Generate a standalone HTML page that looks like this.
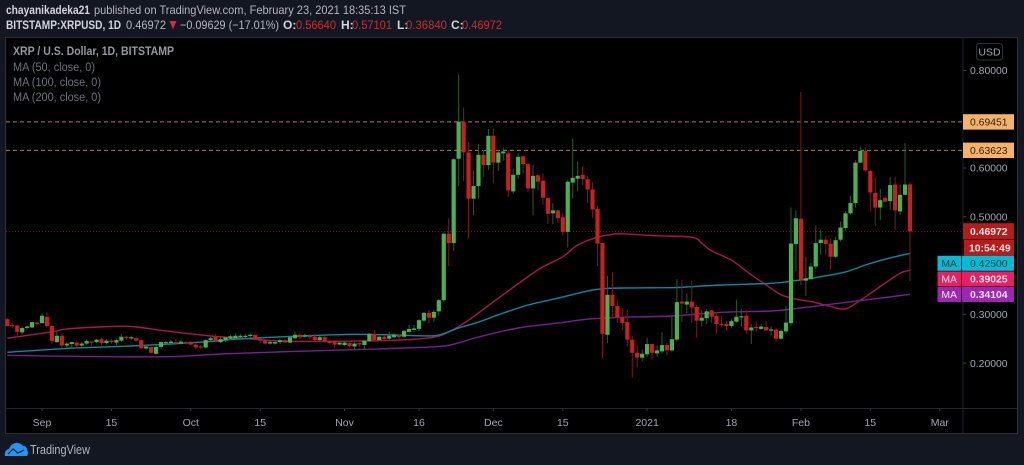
<!DOCTYPE html>
<html lang="en">
<head>
<meta charset="utf-8">
<title>XRP / U.S. Dollar, 1D, BITSTAMP</title>
<style>
html,body{margin:0;padding:0;background:#131722;width:1024px;height:465px;overflow:hidden}
svg{display:block}
text{font-family:"Liberation Sans",sans-serif}
#plot{filter:blur(0.3px)}
</style>
</head>
<body>
<svg id="chart" width="1024" height="465" viewBox="0 0 1024 465" xmlns="http://www.w3.org/2000/svg">
  <rect x="0" y="0" width="1024" height="465" fill="#131722"/>

  <g font-size="12">
    <text x="6" y="14" font-weight="bold" fill="#d1d4dc" textLength="84" lengthAdjust="spacingAndGlyphs">chayanikadeka21</text>
    <text x="94" y="14" fill="#b2b5be" textLength="312" lengthAdjust="spacingAndGlyphs">published on TradingView.com, February 23, 2021 18:35:13 IST</text>
  </g>

  <g font-size="12">
    <text x="6" y="29" font-weight="bold" fill="#d1d4dc" textLength="115" lengthAdjust="spacingAndGlyphs">BITSTAMP:XRPUSD, 1D</text>
    <text x="126" y="29" fill="#b2b5be" textLength="40" lengthAdjust="spacingAndGlyphs">0.46972</text>
    <polygon points="169.500,21 176.500,21 173,29.500" fill="#d32f2f"/>
    <text x="180" y="29" fill="#b2b5be" textLength="99" lengthAdjust="spacingAndGlyphs">−0.09629 (−17.01%)</text>
    <text x="283" y="29" font-weight="bold" fill="#d1d4dc">O:</text>
    <text x="296" y="29" fill="#c62f2f" textLength="40" lengthAdjust="spacingAndGlyphs">0.56640</text>
    <text x="341" y="29" font-weight="bold" fill="#d1d4dc">H:</text>
    <text x="352" y="29" fill="#c62f2f" textLength="40" lengthAdjust="spacingAndGlyphs">0.57101</text>
    <text x="397" y="29" font-weight="bold" fill="#d1d4dc">L:</text>
    <text x="406" y="29" fill="#c62f2f" textLength="41" lengthAdjust="spacingAndGlyphs">0.36840</text>
    <text x="451" y="29" font-weight="bold" fill="#d1d4dc">C:</text>
    <text x="462" y="29" fill="#c62f2f" textLength="40" lengthAdjust="spacingAndGlyphs">0.46972</text>
  </g>

  <rect x="5.500" y="37.500" width="1012" height="396" fill="#000" stroke="#2a2e39" stroke-width="1"/>
  <line x1="963" y1="38" x2="963" y2="433" stroke="#1f222b" stroke-width="1"/>
  <line x1="6" y1="408.500" x2="1017" y2="408.500" stroke="#23262f" stroke-width="1"/>

  <g id="plot"></g>
  <g id="xaxis"></g>
  <g id="yaxis"></g>
  <g id="tags"></g>

  <g>
    <text x="13" y="55" font-size="11.500" font-weight="bold" fill="#9598a1" textLength="161" lengthAdjust="spacingAndGlyphs">XRP / U.S. Dollar, 1D, BITSTAMP</text>
    <text x="13" y="71" font-size="11.500" fill="#6f727c" textLength="82" lengthAdjust="spacingAndGlyphs">MA (50, close, 0)</text>
    <text x="13" y="86" font-size="11.500" fill="#6f727c" textLength="88" lengthAdjust="spacingAndGlyphs">MA (100, close, 0)</text>
    <text x="13" y="101" font-size="11.500" fill="#6f727c" textLength="88" lengthAdjust="spacingAndGlyphs">MA (200, close, 0)</text>
  </g>

  <g>
    <rect x="976.500" y="43.500" width="26" height="16.500" rx="3" fill="none" stroke="#2e323c"/>
    <text x="989.500" y="55.500" font-size="10.500" fill="#a3a6af" text-anchor="middle">USD</text>
  </g>

  <g>
    <path d="M5 456 Q4 450 9 449 Q11 443 17 443 Q21 443 23 446 Q27 446 27 450 Q29 452 27 456 Z" fill="#2196f3"/>
    <path d="M8 454 L13 449 L18 453 L24 450" fill="none" stroke="#131722" stroke-width="1.200"/>
    <text x="30" y="454" font-size="13" fill="#b2b5be" textLength="60" lengthAdjust="spacingAndGlyphs">TradingView</text>
  </g>
</svg>

<script>
// Candles run daily; index 0 is 7 days before the September tick.
const firstDay = -7;
const opens = [
.290,.278,.277,.263,.272,.273,.283,.282,.295,.276,
.243,.256,.236,.239,.242,.236,.240,.244,.243,.249,
.241,.246,.242,.246,.254,.251,.251,.247,.230,.233,
.219,.233,.241,.241,.243,.240,.243,.243,.238,.234,
.232,.247,.254,.243,.247,.250,.251,.253,.254,.256,
.258,.249,.246,.240,.240,.243,.247,.242,.251,.258,
.254,.256,.254,.247,.253,.245,.245,.238,.237,.241,
.234,.241,.237,.245,.260,.247,.254,.250,.253,.256,
.254,.264,.268,.270,.287,.303,.293,.306,.329,.465,
.446,.619,.695,.632,.537,.563,.627,.606,.666,.611,
.630,.630,.552,.586,.624,.608,.558,.585,.574,.539,
.507,.513,.499,.469,.570,.578,.586,.577,.556,.516,
.446,.258,.340,.317,.294,.284,.248,.221,.211,.218,
.239,.220,.224,.237,.226,.248,.326,.320,.326,.315,
.287,.292,.308,.297,.280,.280,.276,.285,.295,.297,
.267,.274,.270,.274,.268,.269,.250,.265,.282,.444,
.496,.369,.372,.398,.446,.453,.445,.418,.453,.477,
.507,.528,.611,.635,.594,.549,.519,.539,.532,.566,
.511,.545,.5664];
const highs = [
.292,.282,.279,.275,.277,.285,.285,.301,.304,.278,
.265,.259,.243,.244,.244,.243,.249,.245,.250,.252,
.249,.249,.250,.260,.256,.256,.253,.248,.237,.234,
.237,.244,.245,.247,.249,.247,.245,.245,.240,.237,
.249,.254,.260,.253,.254,.258,.261,.259,.259,.261,
.258,.250,.247,.245,.245,.249,.249,.254,.265,.261,
.260,.260,.260,.256,.256,.247,.247,.245,.245,.243,
.243,.242,.247,.262,.268,.256,.258,.265,.261,.258,
.268,.278,.278,.290,.305,.309,.309,.332,.468,.497,
.620,.792,.724,.653,.594,.649,.637,.680,.681,.637,
.642,.637,.599,.630,.625,.610,.606,.589,.589,.539,
.528,.514,.507,.575,.660,.614,.604,.584,.571,.522,
.446,.379,.386,.328,.312,.310,.256,.236,.228,.252,
.239,.237,.263,.241,.297,.372,.370,.342,.370,.319,
.309,.310,.309,.304,.297,.287,.290,.330,.312,.309,
.280,.285,.281,.286,.275,.271,.269,.317,.519,.513,
.756,.418,.405,.482,.473,.459,.456,.459,.490,.511,
.543,.616,.644,.642,.596,.581,.557,.540,.581,.582,
.565,.651,.57101];
const lows = [
.275,.271,.253,.258,.269,.272,.277,.280,.273,.239,
.241,.230,.232,.232,.232,.232,.237,.236,.241,.237,
.238,.239,.237,.244,.247,.247,.244,.229,.227,.220,
.218,.229,.239,.239,.237,.238,.238,.236,.229,.230,
.230,.245,.242,.241,.243,.247,.250,.250,.251,.252,
.248,.241,.238,.238,.238,.239,.241,.241,.249,.249,
.252,.249,.245,.245,.242,.238,.230,.236,.235,.233,
.228,.234,.227,.243,.245,.245,.245,.247,.251,.249,
.252,.261,.263,.266,.284,.281,.284,.297,.325,.399,
.430,.563,.573,.456,.503,.537,.582,.596,.569,.594,
.615,.541,.547,.578,.589,.550,.503,.554,.525,.485,
.485,.487,.462,.437,.537,.552,.565,.528,.498,.399,
.210,.241,.295,.282,.267,.234,.170,.191,.203,.213,
.207,.213,.220,.217,.222,.244,.284,.302,.283,.252,
.276,.280,.282,.260,.275,.266,.271,.283,.275,.260,
.239,.265,.268,.267,.256,.244,.248,.260,.276,.388,
.360,.338,.371,.394,.422,.422,.391,.415,.449,.472,
.504,.519,.610,.593,.511,.481,.493,.530,.514,.473,
.504,.544,.3684];
const closes = [
.276,.277,.264,.272,.275,.284,.280,.297,.276,.245,
.256,.236,.240,.243,.236,.240,.245,.243,.248,.241,
.246,.243,.247,.254,.252,.253,.246,.230,.234,.221,
.233,.243,.243,.244,.242,.244,.241,.238,.232,.232,
.247,.251,.245,.249,.253,.255,.256,.256,.256,.258,
.248,.246,.240,.243,.243,.247,.242,.253,.258,.253,
.257,.253,.247,.253,.244,.241,.238,.242,.242,.235,
.240,.238,.246,.260,.247,.254,.249,.256,.258,.254,
.266,.270,.271,.288,.303,.293,.305,.329,.465,.446,
.618,.695,.632,.537,.563,.627,.606,.666,.611,.632,
.634,.554,.586,.623,.608,.558,.584,.572,.539,.506,
.513,.497,.469,.572,.580,.584,.577,.556,.515,.445,
.260,.340,.317,.294,.282,.248,.221,.211,.219,.239,
.221,.226,.237,.226,.249,.325,.322,.326,.314,.287,
.293,.306,.295,.280,.279,.276,.286,.295,.296,.267,
.273,.273,.275,.267,.269,.250,.266,.283,.445,.497,
.371,.374,.398,.446,.453,.444,.418,.452,.478,.507,
.528,.611,.635,.595,.550,.519,.534,.531,.565,.513,
.545,.566,.46972];

const ma50Days = [-7,2,5,14,18,25,34,43,49,63,72,79,82,86,92,100,105,108,112,115,117,124,131,133,135,139,143,146,149,152,155,159,162,165,169,173,175];
const ma50Values = [.251,.264,.270,.275,.275,.266,.2555,.249,.2446,.245,.247,.253,.264,.288,.333,.391,.418,.442,.458,.464,.465,.461,.458,.446,.430,.411,.381,.360,.340,.331,.326,.316,.311,.329,.357,.384,.39025];

const ma100Days = [-7,5,18,34,39,49,63,76,80,84,88,92,98,104,110,113,117,127,131,137,147,152,157,162,166,170,175];
const ma100Values = [.222,.230,.235,.244,.249,.254,.259,.256,.2576,.272,.284,.299,.319,.333,.348,.3525,.354,.3545,.3566,.360,.3636,.369,.377,.387,.401,.413,.425];

const ma200Days = [-7,5,25,36,49,63,76,82,88,96,104,110,117,127,137,147,152,155,165,175];
const ma200Values = [.216,.214,.213,.2186,.2233,.2274,.232,.2365,.2535,.272,.282,.290,.294,.2965,.304,.3068,.3117,.3156,.328,.34104];

const priceTicks = [0.8,0.6,0.5,0.3,0.2];
const timeTickLabels = ["Sep","15","Oct","15","Nov","16","Dec","15","2021","18","Feb","15","Mar"];
const timeTickDays = [0,14,30,44,61,76,91,105,122,139,153,167,181];
const hLinePrices = [0.69451,0.63623];
const lastPrice = 0.46972;
const countdownText = "10:54:49";
const maTagPrices = [0.42500,0.39025,0.34104];

const SVGNS = "http://www.w3.org/2000/svg";
function xScale(day){ return 42 + 4.96 * day; }
function yScale(p){ return 314.3 - (p - 0.3) * 487.7; }
function mk(tag, parent, attrs){
  const el = document.createElementNS(SVGNS, tag);
  for (const k in attrs) el.setAttribute(k, attrs[k]);
  parent.appendChild(el);
  return el;
}
const plot = document.getElementById("plot");
const xaxis = document.getElementById("xaxis");
const yaxis = document.getElementById("yaxis");
const tags = document.getElementById("tags");

// horizontal drawn levels
hLinePrices.forEach(function(p){
  const l = mk("line", plot, {x1:6, x2:963, y1:yScale(p), y2:yScale(p), stroke:"#a9824f", "stroke-width":1, "stroke-dasharray":"4 3"});
  
  
});
const lastLine = mk("line", plot, {x1:6, x2:963, y1:yScale(lastPrice), y2:yScale(lastPrice), stroke:"#5c1a1a", "stroke-width":1, "stroke-dasharray":"1 2"});



// moving averages, smoothed through the read points
function drawMA(days, values, color){
  const pts = days.map(function(d,i){ return [xScale(d), yScale(values[i])]; });
  let path = "M" + pts[0][0].toFixed(1) + " " + pts[0][1].toFixed(1);
  for (let i = 0; i < pts.length - 1; i++){
    const p0 = pts[Math.max(0,i-1)], p1 = pts[i], p2 = pts[i+1], p3 = pts[Math.min(pts.length-1,i+2)];
    const c1x = p1[0] + (p2[0]-p0[0])/6, c1y = p1[1] + (p2[1]-p0[1])/6;
    const c2x = p2[0] - (p3[0]-p1[0])/6, c2y = p2[1] - (p3[1]-p1[1])/6;
    path += " C" + c1x.toFixed(1) + " " + c1y.toFixed(1) + " " + c2x.toFixed(1) + " " + c2y.toFixed(1) + " " + p2[0].toFixed(1) + " " + p2[1].toFixed(1);
  }
  return mk("path", plot, {d:path, fill:"none", stroke:color, "stroke-width":1.4, "stroke-linejoin":"round"});
}
const ma50Line = drawMA(ma50Days, ma50Values, "#a8174c");


const ma100Line = drawMA(ma100Days, ma100Values, "#0b8a9e");


const ma200Line = drawMA(ma200Days, ma200Values, "#74208f");



// candles
opens.forEach(function(o,i){
  const c = closes[i], up = c >= o;
  const cx = xScale(firstDay + i);
  const g = mk("g", plot, {});
  
  
  const wick = mk("line", g, {x1:cx, x2:cx, y1:yScale(highs[i]), y2:yScale(lows[i]), stroke: up ? "#236029" : "#7a1c1c", "stroke-width":1});
  
  
  const top = yScale(Math.max(o,c)), bot = yScale(Math.min(o,c));
  const body = mk("rect", g, {x:cx-2.1, y:top, width:4.2, height:Math.max(1.2,bot-top), fill: up ? "#4caf50" : "#c62020"});
  
  
});

// time axis
timeTickLabels.forEach(function(label,i){
  const x = xScale(timeTickDays[i]);
  const tick = mk("line", xaxis, {x1:x, x2:x, y1:408.5, y2:411, stroke:"#363a45", "stroke-width":1});
  
  
  const t = mk("text", xaxis, {x:x, y:426, "font-size":10.5, fill:"#a3a6af", "text-anchor":"middle"});
  
  
  t.textContent = label;
});

// price axis
priceTicks.forEach(function(p){
  const y = yScale(p);
  const tick = mk("line", yaxis, {x1:963, x2:966.5, y1:y, y2:y, stroke:"#363a45", "stroke-width":1});
  
  
  const t = mk("text", yaxis, {x:970, y:y+3.7, "font-size":10.4, fill:"#a3a6af"});
  
  
  t.textContent = p.toFixed(5);
});

// level tags
hLinePrices.forEach(function(p){
  const y = yScale(p);
  const r = mk("rect", tags, {x:963, y:y-7.7, width:51, height:15.4, fill:"#f7b26a"});
  
  
  const t = mk("text", tags, {x:970, y:y+3.7, "font-size":10.4, fill:"#2a2418"});
  
  
  t.textContent = p.toFixed(5);
});

// last price tag + countdown
const lastY = yScale(lastPrice);
const lastBox = mk("rect", tags, {x:963, y:lastY-8.3, width:51, height:16, fill:"#b71c1c"});


const lastTxt = mk("text", tags, {x:970, y:lastY+3.7, "font-size":10.4, "font-weight":"bold", fill:"#f3e4e4"});


lastTxt.textContent = lastPrice.toFixed(5);
const cdBox = mk("rect", tags, {x:964, y:lastY+8.2, width:50, height:16, fill:"#b71c1c"});


const cdTxt = mk("text", tags, {x:969, y:lastY+20, "font-size":10.4, "font-weight":"bold", fill:"#f3e4e4"});


cdTxt.textContent = countdownText;

// moving-average tags (stacked just below the countdown)
const maColors = ["#00bcd4","#e91e63","#9c27b0"];
const maTextColors = ["#0b3a44","#fbe3ec","#f3e3f6"];
maTagPrices.forEach(function(p,i){
  const top = 255.8 + i*15.6;
  const box = mk("rect", tags, {x:937.5, y:top, width:23.5, height:15, fill:maColors[i]});
  
  
  const lab = mk("text", tags, {x:949.2, y:top+11.2, "font-size":10.4, fill:maTextColors[i], "text-anchor":"middle"});
  
  
  lab.textContent = "MA";
  const vbox = mk("rect", tags, {x:962, y:top, width:52, height:15, fill:maColors[i]});
  
  
  const val = mk("text", tags, {x:970, y:top+11.2, "font-size":10.4, "font-weight": i===0 ? "normal" : "bold", fill:maTextColors[i]});
  
  
  val.textContent = p.toFixed(5);
});
</script>
</body>
</html>
